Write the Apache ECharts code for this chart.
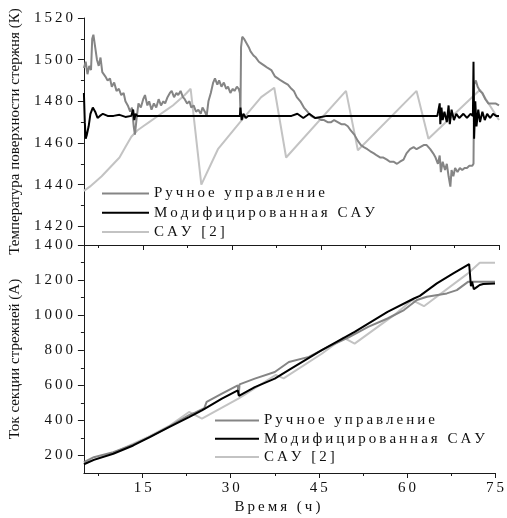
<!DOCTYPE html>
<html>
<head>
<meta charset="utf-8">
<script src="https://cdn.jsdelivr.net/npm/echarts@6/dist/echarts.min.js"></script>
<style>html,body{margin:0;padding:0;background:#fff}#c{width:507px;height:518px}</style>
</head>
<body>
<div id="c"></div>
<script>
// ---------- DATA ----------
const seriesNames = ['Ручное управление', 'Модифицированная САУ', 'САУ [2]'];

// Top panel: surface temperature (K)
const manualTempT = [5.0,5.3,5.6,5.9,6.2,6.4,6.6,6.9,7.2,7.5,7.8,8.1,8.6,9.0,9.4,9.7,10.1,10.5,10.9,11.3,11.7,12.0,12.4,12.8,13.1,13.4,13.6,13.9,14.2,14.6,15.0,15.3,15.7,16.0,16.4,16.8,17.2,17.6,18.0,18.4,18.7,19.1,19.5,19.8,20.2,20.6,20.9,21.3,21.7,22.0,22.4,22.8,23.1,23.5,23.9,24.3,24.7,25.0,25.4,25.7,26.0,26.4,26.8,27.1,27.5,27.8,28.2,28.6,29.0,29.3,29.7,30.1,30.4,30.8,31.1,31.3,31.4,31.5,31.7,32.0,32.4,32.8,33.1,33.6,34.0,34.5,35.0,35.5,36.0,36.6,37.2,37.7,38.2,38.8,39.4,40.0,40.4,40.9,41.5,42.1,42.7,43.3,43.9,44.5,45.0,45.5,46.1,46.7,47.2,47.8,48.4,49.0,49.5,50.0,50.6,51.2,51.7,52.2,52.8,53.3,53.9,54.4,55.0,55.5,56.1,56.6,57.2,57.8,58.3,58.9,59.4,60.0,60.6,61.1,61.7,62.3,62.8,63.4,63.9,64.3,64.7,65.0,65.2,65.5,65.9,66.2,66.5,66.8,67.0,67.3,67.6,68.0,68.4,68.8,69.2,69.6,70.0,70.5,70.7,70.8,71.1,71.4,71.8,72.2,72.7,73.2,73.8,74.4,75.0];
const manualTempV = [1496,1499,1493,1497,1495,1510,1512,1506,1500,1497,1501,1494,1492,1490,1491,1487,1489,1485,1486,1483,1484,1480,1478,1475,1477,1468,1464,1472,1479,1477,1481,1483,1478,1480,1476,1479,1477,1481,1478,1480,1479,1482,1484,1485,1482,1484,1483,1485,1482,1481,1479,1480,1477,1478,1475,1476,1474,1477,1475,1473,1480,1484,1489,1491,1488,1490,1487,1489,1486,1487,1484,1486,1485,1487,1486,1484,1475,1506,1511,1510,1508,1506,1504,1502,1501,1499,1498,1497,1496,1495,1492,1491,1490,1489,1488,1486,1485,1482,1480,1477,1475,1473,1472,1472,1471,1471,1470,1470,1471,1470,1469,1469,1468,1466,1464,1461,1459,1458,1457,1456,1455,1454,1453,1453,1452,1451,1451,1450,1451,1452,1455,1457,1458,1457,1458,1459,1459,1457,1455,1453,1450,1454,1446,1451,1447,1450,1444,1439,1447,1444,1448,1446,1448,1447,1448,1448,1449,1449,1450,1488,1490,1487,1485,1484,1481,1479,1479,1479,1478];

const modTempT = [5.0,5.15,5.3,5.5,5.8,6.1,6.5,6.9,7.3,7.7,8.2,9,10,11,12,13,13.3,13.5,13.7,14,16,18,20,22,24,26,28,30,31.3,31.4,31.6,31.9,32.3,32.7,35,38,40,41,42,43,44,46,50,55,60,64.6,64.8,65.0,65.1,65.3,65.5,65.8,66.2,66.5,66.7,67.0,67.4,67.8,68.3,69.0,69.6,70.2,70.6,70.7,70.8,71.0,71.2,71.5,71.8,72.2,72.6,73.0,73.5,74.0,74.5,75.0];
const modTempV = [1484,1470,1462,1464,1468,1474,1477,1475,1472,1473,1474,1473,1473,1473.5,1472.5,1473,1476,1471,1474,1473,1473,1473,1473,1473,1473,1473,1473,1473,1473,1477,1471,1474,1472,1473,1473,1473,1473,1474,1472,1474,1472,1473,1473,1473,1473,1473,1473,1479,1469,1477,1471,1475,1470,1478,1469,1476,1471,1474,1472,1474,1472,1474,1473,1499,1462,1480,1468,1476,1470,1475,1471,1474,1472,1474,1473,1473];

const sauTempT = [5.0,6.0,7.0,8.0,9.0,10.0,11.0,12.0,13.0,14.0,15.0,16.0,17.0,18.0,19.0,20.0,21.0,22.0,23.0,24.8,27.6,31.2,34.9,37.1,39.1,49.2,51.2,61.1,63.1,71.8,75.0];
const sauTempV = [1437,1439,1441.5,1444,1447,1450,1453,1458,1463,1466,1468,1470,1472,1474,1476,1478,1480.5,1483,1486,1440,1457,1469.5,1482,1486.5,1453,1485,1456.5,1485,1462,1485.5,1471];

// Bottom panel: rod section current (A)
const manualCurT = [5.0,6.7,10.0,13.4,16.2,19.5,22.9,24.0,25.5,25.9,28.5,31.2,31.35,31.5,34.1,37.5,39.9,43.3,46.6,50.0,53.4,56.7,59.5,61.7,63.4,66.8,68.5,70.4,75.0];
const manualCurV = [162,190,219,262,305,365,430,445,470,505,552,600,543,605,638,676,733,762,819,872,933,981,1029,1086,1105,1124,1143,1190,1190];

const modCurT = [5.0,6.7,10.0,13.4,16.2,19.5,22.9,25.1,28.5,31.2,31.4,34.1,37.5,40.0,45.5,51.1,56.7,61.2,62.2,65.1,67.9,70.6,70.7,70.9,71.1,71.4,71.9,72.4,73.0,75.0];
const modCurV = [150,175,210,257,305,362,419,457,524,571,540,590,638,689,800,905,1019,1095,1110,1181,1238,1291,1250,1165,1190,1148,1160,1172,1178,1180];

const sauCurT = [5.0,10.0,16.2,19.5,22.9,25.1,31.3,37.7,39.0,45.5,49.2,51.1,57.8,60.9,62.9,70.4,72.4,75.0];
const sauCurV = [155,215,310,368,448,410,524,660,640,780,872,838,1000,1086,1051,1238,1299,1299];

// Ticks
const xMajor = [15,30,45,60,75];
const xMinor = [7.5,22.5,37.5,52.5,67.5];
const tempMajor = [1420,1440,1460,1480,1500,1520];
const tempMinor = [1430,1450,1470,1490,1510];
const curMajor = [200,400,600,800,1000,1200,1400];
const curMinor = [300,500,700,900,1100,1300];

// ---------- BUILD ----------
const zip = (a, b) => a.map((v, i) => [v, b[i]]);
const sp = s => String(s).split('').join('\u2009');
const FONT = 'Liberation Serif';
const AX = '#1a1a1a';
const colors = {'Ручное управление':'#858585','Модифицированная САУ':'#000000','САУ [2]':'#c3c3c3'};

const grids = [
  {left:82, right:8, top:18, height:227},
  {left:82, right:8, top:245, height:228}
];

function xAx(grid, ticks, len, showLine, labels, name) {
  return {
    type:'value', gridIndex:grid, min:5, max:75, position:'bottom',
    axisLine:{show:showLine, onZero:false, lineStyle:{color:AX, width:1}},
    axisTick:{show:true, customValues:ticks, length:len, lineStyle:{color:AX}},
    axisLabel:{show:labels, customValues:ticks, formatter:v=>sp(v), fontFamily:FONT, fontSize:15, color:'#111', margin:8},
    splitLine:{show:false},
    name: name || '', nameLocation:'middle', nameGap:27,
    nameTextStyle:{fontFamily:FONT, fontSize:15, color:'#111', padding:[0,24,0,0]}
  };
}
function yAx(grid, min, max, ticks, len, showLine, labels, name) {
  return {
    type:'value', gridIndex:grid, min:min, max:max, position:'left',
    axisLine:{show:showLine, onZero:false, lineStyle:{color:AX, width:1}},
    axisTick:{show:true, customValues:ticks, length:len, lineStyle:{color:AX}},
    axisLabel:{show:labels, customValues:ticks, formatter:v=>sp(v), fontFamily:FONT, fontSize:15, color:'#111', margin:11},
    splitLine:{show:false},
    name: name || '', nameLocation:'middle', nameGap:58,
    nameTextStyle:{fontFamily:FONT, fontSize:15, color:'#111'}
  };
}

const xAxis = [
  xAx(0, xMajor, 5, true, false),
  xAx(1, xMajor, 5, true, true, sp('Время (ч)')),
  xAx(0, xMinor, 3, false, false),
  xAx(1, xMinor, 3, false, false)
];
const yAxis = [
  yAx(0, 1411, 1520, tempMajor, 6, true, true, 'Температура поверхности стержня (К)'),
  yAx(1, 100, 1400, curMajor, 6, true, true, 'Ток секции стрежней (А)'),
  yAx(0, 1411, 1520, tempMinor, 3, false, false),
  yAx(1, 100, 1400, curMinor, 3, false, false)
];

function line(name, gi, t, v, z) {
  return {
    name, type:'line', xAxisIndex:gi, yAxisIndex:gi, data:zip(t, v),
    symbol:'none', showSymbol:false, animation:false, z:z,
    lineStyle:{color:colors[name], width:2}, itemStyle:{color:colors[name]}
  };
}

const series = [
  line('САУ [2]', 0, sauTempT, sauTempV, 2),
  line('Ручное управление', 0, manualTempT, manualTempV, 3),
  line('Модифицированная САУ', 0, modTempT, modTempV, 4),
  line('САУ [2]', 1, sauCurT, sauCurV, 2),
  line('Ручное управление', 1, manualCurT, manualCurV, 3),
  line('Модифицированная САУ', 1, modCurT, modCurV, 4)
];

function legend(left, top, w, gap) {
  return {
    data: seriesNames, orient:'vertical', left:left, top:top, itemWidth:w, itemHeight:2,
    icon:'rect', itemGap:gap, padding:0, selectedMode:false,
    formatter:n=>sp(n),
    textStyle:{fontFamily:FONT, fontSize:15, color:'#111', lineHeight:15}
  };
}

const chart = echarts.init(document.getElementById('c'), null, {renderer:'canvas'});
chart.setOption({
  animation:false,
  backgroundColor:'#fff',
  grid: grids,
  xAxis, yAxis, series,
  legend:[legend(102, 186, 47, 4.3), legend(215, 413, 44, 3.3)]
});
</script>
</body>
</html>
